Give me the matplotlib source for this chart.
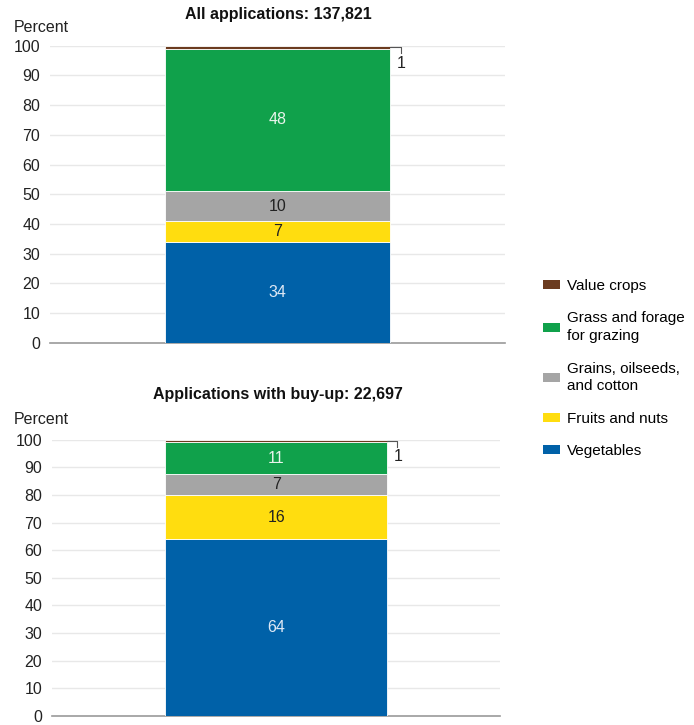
import matplotlib
matplotlib.use("Agg")
import matplotlib.pyplot as plt
from matplotlib.patches import Patch

plt.rcParams['font.family'] = ['Liberation Sans', 'DejaVu Sans']

categories = ["Vegetables", "Fruits and nuts", "Grains, oilseeds,\nand cotton",
              "Grass and forage\nfor grazing", "Value crops"]
colors = ["#0061a8", "#ffdd0f", "#a5a5a5", "#10a14b", "#6b3b1f"]
label_colors = ["#dde8f5", "#222222", "#222222", "#e8f5ec", None]

all_values = [34, 7, 10, 48, 1]
all_labels = ["34", "7", "10", "48", "1"]
buyup_values = [64, 16, 7.5, 11.5, 1]
buyup_labels = ["64", "16", "7", "11", "1"]

titles = ["All applications: 137,821", "Applications with buy-up: 22,697"]
yticks = list(range(0, 101, 10))

FS = 11.5

fig = plt.figure(figsize=(6.94, 7.25), dpi=100)
ax1 = fig.add_axes([0.072, 0.527, 0.656, 0.410])
ax2 = fig.add_axes([0.075, 0.0125, 0.646, 0.381])

def draw(ax, values, labels, title, title_y, pct_y):
    bottom = 0
    for v, lab, c, lc in zip(values, labels, colors, label_colors):
        ax.bar(0, v, bottom=bottom, width=0.99, color=c, edgecolor="white", linewidth=0.6, zorder=3)
        if lc is not None:
            ax.text(0, bottom + v / 2, lab, ha="center", va="center", color=lc, fontsize=FS, zorder=4)
        else:
            top = bottom + v
            ax.plot([0.495, 0.54, 0.54], [top - 0.3, top - 0.3, top - 2.5], color="#555555", lw=0.8, zorder=4, clip_on=False)
            ax.text(0.525, top - 6, lab, ha="left", va="center", fontsize=FS, color="#222222")
        bottom += v
    ax.set_xlim(-1, 1)
    ax.set_ylim(0, 100)
    ax.set_yticks(yticks)
    ax.set_xticks([])
    ax.tick_params(axis="y", length=0, pad=7, labelsize=FS, colors="#222222")
    ax.grid(axis="y", color="#e8e8e8", linewidth=1, zorder=0)
    for s in ["top", "right", "left"]:
        ax.spines[s].set_visible(False)
    ax.spines["bottom"].set_color("#9a9a9a")
    ax.spines["bottom"].set_linewidth(1.2)
    fig.text(278 / 694, 1 - title_y / 725, title, ha="center", va="center", fontsize=FS, fontweight="bold", color="#111111")
    fig.text(14 / 694, 1 - pct_y / 725, "Percent", ha="left", va="center", fontsize=FS, color="#222222")

draw(ax1, all_values, all_labels, titles[0], 14, 27)
draw(ax2, buyup_values, buyup_labels, titles[1], 395, 419)

handles = [Patch(facecolor=c, edgecolor="none") for c in colors][::-1]
leg = fig.legend(handles, categories[::-1], loc="upper left", bbox_to_anchor=(543 / 694, 1 - 279 / 725),
                 frameon=False, fontsize=11, handlelength=1.1, handleheight=0.55, handletextpad=0.45,
                 labelspacing=1.2, borderaxespad=0, borderpad=0)
for t in leg.get_texts():
    t.set_linespacing(1.35)

fig.savefig("out.png", dpi=100)
